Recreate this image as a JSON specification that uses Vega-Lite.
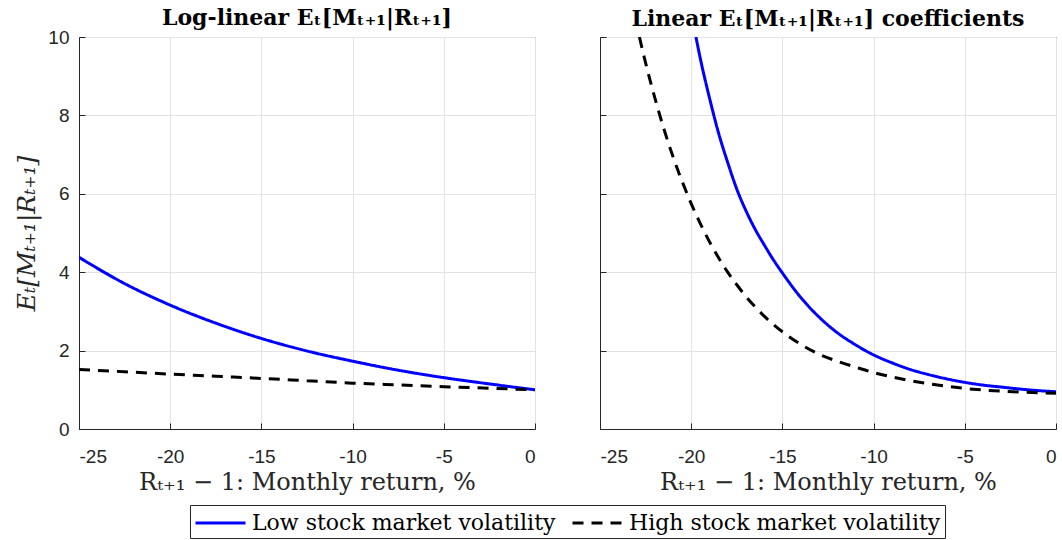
{
  "$schema": "https://vega.github.io/schema/vega-lite/v6.json",
  "background": "white",
  "padding": {"left": 14, "top": 6, "right": 7, "bottom": 0},
  "datasets": {
    "curves": [
      {"panel": "L", "x": -25, "y": 4.38, "series": "Low stock market volatility"},
      {"panel": "L", "x": -22.5, "y": 3.71, "series": "Low stock market volatility"},
      {"panel": "L", "x": -20, "y": 3.16, "series": "Low stock market volatility"},
      {"panel": "L", "x": -17.5, "y": 2.7, "series": "Low stock market volatility"},
      {"panel": "L", "x": -15, "y": 2.31, "series": "Low stock market volatility"},
      {"panel": "L", "x": -12.5, "y": 1.99, "series": "Low stock market volatility"},
      {"panel": "L", "x": -10, "y": 1.73, "series": "Low stock market volatility"},
      {"panel": "L", "x": -7.5, "y": 1.5, "series": "Low stock market volatility"},
      {"panel": "L", "x": -5, "y": 1.31, "series": "Low stock market volatility"},
      {"panel": "L", "x": -2.5, "y": 1.15, "series": "Low stock market volatility"},
      {"panel": "L", "x": 0, "y": 1.0, "series": "Low stock market volatility"},
      {"panel": "L", "x": -25, "y": 1.52, "series": "High stock market volatility"},
      {"panel": "L", "x": -22.5, "y": 1.46, "series": "High stock market volatility"},
      {"panel": "L", "x": -20, "y": 1.4, "series": "High stock market volatility"},
      {"panel": "L", "x": -17.5, "y": 1.345, "series": "High stock market volatility"},
      {"panel": "L", "x": -15, "y": 1.29, "series": "High stock market volatility"},
      {"panel": "L", "x": -12.5, "y": 1.23, "series": "High stock market volatility"},
      {"panel": "L", "x": -10, "y": 1.17, "series": "High stock market volatility"},
      {"panel": "L", "x": -7.5, "y": 1.125, "series": "High stock market volatility"},
      {"panel": "L", "x": -5, "y": 1.08, "series": "High stock market volatility"},
      {"panel": "L", "x": -2.5, "y": 1.04, "series": "High stock market volatility"},
      {"panel": "L", "x": 0, "y": 1.0, "series": "High stock market volatility"},
      {"panel": "R", "x": -19.74, "y": 10.0, "series": "Low stock market volatility"},
      {"panel": "R", "x": -19.5, "y": 9.45, "series": "Low stock market volatility"},
      {"panel": "R", "x": -19, "y": 8.45, "series": "Low stock market volatility"},
      {"panel": "R", "x": -18.5, "y": 7.55, "series": "Low stock market volatility"},
      {"panel": "R", "x": -18, "y": 6.8, "series": "Low stock market volatility"},
      {"panel": "R", "x": -17.5, "y": 6.12, "series": "Low stock market volatility"},
      {"panel": "R", "x": -17, "y": 5.57, "series": "Low stock market volatility"},
      {"panel": "R", "x": -16.5, "y": 5.1, "series": "Low stock market volatility"},
      {"panel": "R", "x": -16, "y": 4.7, "series": "Low stock market volatility"},
      {"panel": "R", "x": -15.5, "y": 4.32, "series": "Low stock market volatility"},
      {"panel": "R", "x": -15, "y": 3.98, "series": "Low stock market volatility"},
      {"panel": "R", "x": -14, "y": 3.36, "series": "Low stock market volatility"},
      {"panel": "R", "x": -13, "y": 2.86, "series": "Low stock market volatility"},
      {"panel": "R", "x": -12, "y": 2.46, "series": "Low stock market volatility"},
      {"panel": "R", "x": -11, "y": 2.15, "series": "Low stock market volatility"},
      {"panel": "R", "x": -10, "y": 1.89, "series": "Low stock market volatility"},
      {"panel": "R", "x": -9, "y": 1.69, "series": "Low stock market volatility"},
      {"panel": "R", "x": -8, "y": 1.52, "series": "Low stock market volatility"},
      {"panel": "R", "x": -7, "y": 1.39, "series": "Low stock market volatility"},
      {"panel": "R", "x": -6, "y": 1.28, "series": "Low stock market volatility"},
      {"panel": "R", "x": -5, "y": 1.19, "series": "Low stock market volatility"},
      {"panel": "R", "x": -4, "y": 1.12, "series": "Low stock market volatility"},
      {"panel": "R", "x": -3, "y": 1.07, "series": "Low stock market volatility"},
      {"panel": "R", "x": -2, "y": 1.02, "series": "Low stock market volatility"},
      {"panel": "R", "x": -1, "y": 0.98, "series": "Low stock market volatility"},
      {"panel": "R", "x": 0, "y": 0.95, "series": "Low stock market volatility"},
      {"panel": "R", "x": -22.84, "y": 10.0, "series": "High stock market volatility"},
      {"panel": "R", "x": -22.5, "y": 9.34, "series": "High stock market volatility"},
      {"panel": "R", "x": -22, "y": 8.46, "series": "High stock market volatility"},
      {"panel": "R", "x": -21.5, "y": 7.66, "series": "High stock market volatility"},
      {"panel": "R", "x": -21, "y": 6.95, "series": "High stock market volatility"},
      {"panel": "R", "x": -20.5, "y": 6.32, "series": "High stock market volatility"},
      {"panel": "R", "x": -20, "y": 5.75, "series": "High stock market volatility"},
      {"panel": "R", "x": -19.5, "y": 5.24, "series": "High stock market volatility"},
      {"panel": "R", "x": -19, "y": 4.78, "series": "High stock market volatility"},
      {"panel": "R", "x": -18.5, "y": 4.37, "series": "High stock market volatility"},
      {"panel": "R", "x": -18, "y": 4.0, "series": "High stock market volatility"},
      {"panel": "R", "x": -17.5, "y": 3.68, "series": "High stock market volatility"},
      {"panel": "R", "x": -17, "y": 3.38, "series": "High stock market volatility"},
      {"panel": "R", "x": -16.5, "y": 3.12, "series": "High stock market volatility"},
      {"panel": "R", "x": -16, "y": 2.88, "series": "High stock market volatility"},
      {"panel": "R", "x": -15.5, "y": 2.67, "series": "High stock market volatility"},
      {"panel": "R", "x": -15, "y": 2.48, "series": "High stock market volatility"},
      {"panel": "R", "x": -14, "y": 2.16, "series": "High stock market volatility"},
      {"panel": "R", "x": -13, "y": 1.91, "series": "High stock market volatility"},
      {"panel": "R", "x": -12, "y": 1.73, "series": "High stock market volatility"},
      {"panel": "R", "x": -11, "y": 1.58, "series": "High stock market volatility"},
      {"panel": "R", "x": -10, "y": 1.44, "series": "High stock market volatility"},
      {"panel": "R", "x": -9, "y": 1.33, "series": "High stock market volatility"},
      {"panel": "R", "x": -8, "y": 1.235, "series": "High stock market volatility"},
      {"panel": "R", "x": -7, "y": 1.155, "series": "High stock market volatility"},
      {"panel": "R", "x": -6, "y": 1.09, "series": "High stock market volatility"},
      {"panel": "R", "x": -5, "y": 1.035, "series": "High stock market volatility"},
      {"panel": "R", "x": -4, "y": 0.995, "series": "High stock market volatility"},
      {"panel": "R", "x": -3, "y": 0.966, "series": "High stock market volatility"},
      {"panel": "R", "x": -2, "y": 0.943, "series": "High stock market volatility"},
      {"panel": "R", "x": -1, "y": 0.925, "series": "High stock market volatility"},
      {"panel": "R", "x": 0, "y": 0.91, "series": "High stock market volatility"}
    ]
  },
  "data": {"name": "curves"},
  "spacing": 63,
  "hconcat": [
    {
      "width": 456,
      "height": 392,
      "title": {"text": "Log-linear Eₜ[Mₜ₊₁|Rₜ₊₁]", "offset": -2},
      "transform": [{"filter": "datum.panel === 'L'"}],
      "mark": {"type": "line", "strokeWidth": 3, "interpolate": "monotone", "clip": true},
      "encoding": {
        "x": {"field": "x", "type": "quantitative", "scale": {"domain": [-25, 0], "nice": false},
          "axis": {"title": "Rₜ₊₁ − 1:  Monthly return, %", "values": [-25, -20, -15, -10, -5, 0]}},
        "y": {"field": "y", "type": "quantitative", "scale": {"domain": [0, 10], "nice": false},
          "axis": {"title": "Eₜ[Mₜ₊₁|Rₜ₊₁]", "titleFontStyle": "italic", "values": [0, 2, 4, 6, 8, 10]}},
        "color": {"field": "series", "type": "nominal", "sort": null,
          "scale": {"domain": ["Low stock market volatility", "High stock market volatility"], "range": ["#0000ff", "#000000"]},
          "legend": {"title": null, "orient": "none", "legendX": 111, "legendY": 468}},
        "strokeDash": {"field": "series", "type": "nominal", "sort": null,
          "scale": {"domain": ["Low stock market volatility", "High stock market volatility"], "range": [[1, 0], [11, 8]]},
          "legend": {"title": null, "orient": "none", "legendX": 111, "legendY": 468}},
        "order": {"field": "x", "type": "quantitative"}
      }
    },
    {
      "width": 456,
      "height": 392,
      "title": {"text": "Linear Eₜ[Mₜ₊₁|Rₜ₊₁] coefficients"},
      "transform": [{"filter": "datum.panel === 'R'"}],
      "mark": {"type": "line", "strokeWidth": 3, "interpolate": "monotone", "clip": true},
      "encoding": {
        "x": {"field": "x", "type": "quantitative", "scale": {"domain": [-25, 0], "nice": false},
          "axis": {"title": "Rₜ₊₁ − 1:  Monthly return, %", "values": [-25, -20, -15, -10, -5, 0]}},
        "y": {"field": "y", "type": "quantitative", "scale": {"domain": [0, 10], "nice": false},
          "axis": {"title": null, "labels": false, "values": [0, 2, 4, 6, 8, 10]}},
        "color": {"field": "series", "type": "nominal", "sort": null,
          "scale": {"domain": ["Low stock market volatility", "High stock market volatility"], "range": ["#0000ff", "#000000"]},
          "legend": {"title": null, "orient": "none", "legendX": 111, "legendY": 468}},
        "strokeDash": {"field": "series", "type": "nominal", "sort": null,
          "scale": {"domain": ["Low stock market volatility", "High stock market volatility"], "range": [[1, 0], [11, 8]]},
          "legend": {"title": null, "orient": "none", "legendX": 111, "legendY": 468}},
        "order": {"field": "x", "type": "quantitative"}
      }
    }
  ],
  "config": {
    "view": {"stroke": "#262626", "strokeWidth": 1},
    "title": {"font": "DejaVu Serif", "fontSize": 22, "fontWeight": "bold", "color": "#000000", "offset": 6, "anchor": "middle", "frame": "group"},
    "axis": {
      "domainColor": "#262626",
      "tickColor": "#262626",
      "tickSize": -6,
      "labelFont": "Liberation Sans",
      "labelFontSize": 19,
      "labelColor": "#262626",
      "labelExpr": "'' + datum.value",
      "gridColor": "#e3e3e3",
      "gridWidth": 1,
      "titleFont": "DejaVu Serif",
      "titleFontSize": 24,
      "titleFontWeight": "normal",
      "titleColor": "#262626"
    },
    "axisX": {"labelPadding": 24, "titlePadding": 4},
    "axisY": {"labelPadding": 16, "titlePadding": 8, "titleFontSize": 25},
    "legend": {
      "direction": "horizontal",
      "strokeColor": "#262626",
      "fillColor": "white",
      "padding": 4,
      "labelFont": "DejaVu Serif",
      "labelFontSize": 22,
      "labelColor": "#000000",
      "labelOffset": 30,
      "symbolType": "M-1,0L3,0",
      "symbolSize": 625,
      "symbolStrokeWidth": 3,
      "columnPadding": 10,
      "labelLimit": 400
    }
  }
}
